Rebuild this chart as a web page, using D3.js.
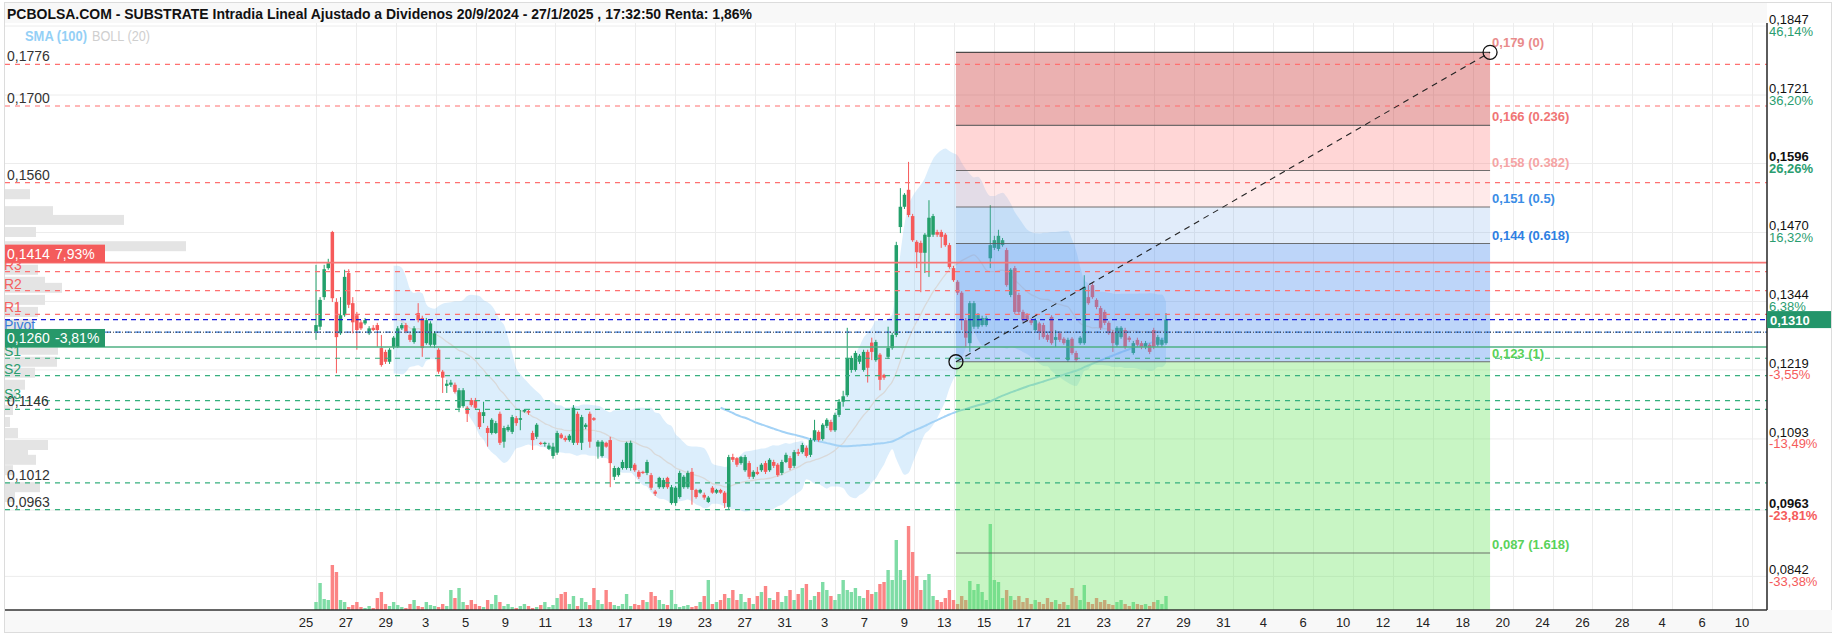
<!DOCTYPE html>
<html><head><meta charset="utf-8">
<script src="https://cdn.jsdelivr.net/npm/d3@7"></script>
<style>body{margin:0;background:#fff}svg{display:block;font-family:"Liberation Sans",Arial,sans-serif}</style>
</head><body><svg id="c" width="1833" height="638"></svg>
<script>
const titleText = "PCBOLSA.COM - SUBSTRATE Intradia Lineal Ajustado a Dividenos 20/9/2024 - 27/1/2025 , 17:32:50 Renta: 1,86%";
// [open, high, low, close]
const ohlc = [
[0.1288,0.1410,0.1273,0.1300],[0.1297,0.1351,0.1291,0.1346],[0.1351,0.1410,0.1346,0.1402],[0.1404,0.1421,0.1401,0.1413],
[0.1470,0.1472,0.1342,0.1349],[0.1342,0.1349,0.1212,0.1278],[0.1285,0.1351,0.1282,0.1318],[0.1318,0.1401,0.1315,0.1388],
[0.1395,0.1402,0.1331,0.1337],[0.1340,0.1351,0.1285,0.1305],[0.1318,0.1324,0.1255,0.1291],[0.1305,0.1309,0.1291,0.1294],
[0.1303,0.1313,0.1300,0.1309],[0.1285,0.1298,0.1282,0.1294],[0.1295,0.1300,0.1289,0.1291],[0.1300,0.1304,0.1260,0.1291],
[0.1258,0.1282,0.1224,0.1227],[0.1251,0.1255,0.1229,0.1233],[0.1233,0.1258,0.1229,0.1255],[0.1260,0.1280,0.1256,0.1277],
[0.1260,0.1298,0.1258,0.1294],[0.1294,0.1304,0.1291,0.1300],[0.1300,0.1304,0.1285,0.1288],[0.1282,0.1285,0.1269,0.1273],
[0.1269,0.1298,0.1266,0.1294],[0.1322,0.1340,0.1305,0.1309],[0.1313,0.1317,0.1242,0.1258],[0.1267,0.1313,0.1264,0.1309],
[0.1264,0.1307,0.1260,0.1303],[0.1264,0.1289,0.1258,0.1285],[0.1255,0.1258,0.1211,0.1215],[0.1215,0.1218,0.1176,0.1204],
[0.1189,0.1200,0.1176,0.1193],[0.1191,0.1200,0.1187,0.1195],[0.1191,0.1195,0.1175,0.1178],[0.1149,0.1185,0.1141,0.1181],
[0.1152,0.1185,0.1149,0.1181],[0.1149,0.1152,0.1123,0.1138],[0.1163,0.1167,0.1151,0.1154],[0.1163,0.1167,0.1145,0.1149],
[0.1141,0.1145,0.1110,0.1114],[0.1134,0.1160,0.1121,0.1141],[0.1112,0.1116,0.1078,0.1103],[0.1103,0.1130,0.1100,0.1127],
[0.1103,0.1125,0.1101,0.1121],[0.1138,0.1142,0.1081,0.1085],[0.1087,0.1116,0.1076,0.1112],[0.1108,0.1118,0.1105,0.1114],
[0.1105,0.1136,0.1101,0.1132],[0.1130,0.1134,0.1116,0.1121],[0.1127,0.1145,0.1108,0.1130],[0.1142,0.1147,0.1140,0.1145],
[0.1143,0.1146,0.1136,0.1140],[0.1103,0.1107,0.1072,0.1090],[0.1096,0.1121,0.1092,0.1118],[0.1085,0.1087,0.1081,0.1083],
[0.1083,0.1087,0.1078,0.1085],[0.1074,0.1085,0.1072,0.1080],[0.1061,0.1085,0.1056,0.1078],[0.1067,0.1107,0.1063,0.1103],
[0.1100,0.1103,0.1092,0.1094],[0.1094,0.1098,0.1087,0.1090],[0.1090,0.1101,0.1087,0.1098],[0.1085,0.1154,0.1081,0.1149],
[0.1138,0.1142,0.1081,0.1085],[0.1085,0.1136,0.1072,0.1132],[0.1114,0.1121,0.1110,0.1118],[0.1138,0.1142,0.1076,0.1087],
[0.1130,0.1132,0.1125,0.1127],[0.1078,0.1090,0.1056,0.1087],[0.1061,0.1090,0.1058,0.1087],[0.1085,0.1087,0.1076,0.1078],
[0.1090,0.1096,0.1004,0.1048],[0.1023,0.1043,0.1017,0.1039],[0.1026,0.1041,0.1023,0.1039],[0.1039,0.1054,0.1036,0.1050],
[0.1039,0.1087,0.1036,0.1085],[0.1039,0.1089,0.1034,0.1085],[0.1045,0.1048,0.1032,0.1035],[0.1032,0.1035,0.1019,0.1023],
[0.1032,0.1034,0.1028,0.1030],[0.1030,0.1054,0.1026,0.1050],[0.1026,0.1030,0.0999,0.1003],[0.0996,0.0999,0.0988,0.0992],
[0.1004,0.1023,0.1001,0.1021],[0.1004,0.1021,0.1001,0.1017],[0.1021,0.1023,0.1001,0.1004],[0.0975,0.1008,0.0972,0.1004],
[0.0975,0.1006,0.0970,0.1003],[0.0986,0.1034,0.0983,0.1030],[0.1004,0.1026,0.1001,0.1023],[0.1004,0.1034,0.1001,0.1030],
[0.1032,0.1039,0.0972,0.0999],[0.0999,0.1001,0.0983,0.0986],[0.0994,0.1001,0.0992,0.0999],[0.0990,0.0994,0.0981,0.0985],
[0.0977,0.0988,0.0975,0.0985],[0.1003,0.1006,0.0992,0.0994],[0.0994,0.1001,0.0992,0.0999],[0.0999,0.1001,0.0992,0.0994],
[0.0994,0.0997,0.0966,0.0975],[0.0968,0.1063,0.0964,0.1059],[0.1059,0.1065,0.1050,0.1054],[0.1057,0.1059,0.1041,0.1045],
[0.1048,0.1061,0.1045,0.1059],[0.1035,0.1063,0.1032,0.1059],[0.1048,0.1052,0.1019,0.1023],[0.1023,0.1035,0.1019,0.1032],
[0.1032,0.1041,0.1026,0.1028],[0.1035,0.1048,0.1032,0.1045],[0.1048,0.1052,0.1028,0.1032],[0.1035,0.1057,0.1032,0.1054],
[0.1050,0.1054,0.1039,0.1043],[0.1045,0.1048,0.1023,0.1026],[0.1030,0.1054,0.1026,0.1050],[0.1050,0.1067,0.1048,0.1063],
[0.1057,0.1061,0.1035,0.1039],[0.1043,0.1072,0.1039,0.1068],[0.1068,0.1074,0.1061,0.1065],[0.1068,0.1085,0.1065,0.1081],
[0.1076,0.1080,0.1058,0.1061],[0.1063,0.1094,0.1059,0.1090],[0.1090,0.1127,0.1087,0.1108],[0.1105,0.1108,0.1087,0.1090],
[0.1092,0.1121,0.1089,0.1118],[0.1116,0.1130,0.1112,0.1127],[0.1123,0.1127,0.1105,0.1108],[0.1108,0.1140,0.1105,0.1136],
[0.1136,0.1165,0.1132,0.1160],[0.1160,0.1180,0.1151,0.1170],[0.1172,0.1295,0.1169,0.1240],[0.1218,0.1244,0.1213,0.1240],
[0.1218,0.1253,0.1215,0.1249],[0.1233,0.1247,0.1229,0.1244],[0.1218,0.1255,0.1215,0.1251],[0.1251,0.1255,0.1195,0.1222],
[0.1268,0.1277,0.1236,0.1251],[0.1236,0.1273,0.1233,0.1269],[0.1246,0.1249,0.1181,0.1200],[0.1209,0.1211,0.1200,0.1204],
[0.1242,0.1297,0.1238,0.1258],[0.1258,0.1286,0.1255,0.1282],[0.1282,0.1452,0.1278,0.1446],[0.1479,0.1550,0.1468,0.1516],
[0.1516,0.1541,0.1512,0.1538],[0.1547,0.1598,0.1497,0.1501],[0.1499,0.1503,0.1452,0.1455],[0.1452,0.1455,0.1404,0.1433],
[0.1450,0.1454,0.1360,0.1432],[0.1432,0.1468,0.1395,0.1465],[0.1461,0.1528,0.1388,0.1496],[0.1465,0.1503,0.1461,0.1499],
[0.1470,0.1474,0.1461,0.1465],[0.1470,0.1474,0.1441,0.1461],[0.1465,0.1468,0.1443,0.1446],[0.1446,0.1450,0.1403,0.1406],
[0.1404,0.1408,0.1379,0.1382],[0.1379,0.1382,0.1355,0.1359],[0.1359,0.1362,0.1291,0.1309],[0.1309,0.1313,0.1260,0.1277],
[0.1267,0.1344,0.1251,0.1340],[0.1297,0.1344,0.1293,0.1340],[0.1297,0.1322,0.1293,0.1318],[0.1300,0.1317,0.1297,0.1313],
[0.1300,0.1317,0.1297,0.1313],[0.1422,0.1519,0.1404,0.1446],[0.1441,0.1463,0.1437,0.1455],[0.1439,0.1474,0.1435,0.1463],
[0.1446,0.1459,0.1443,0.1455],[0.1437,0.1441,0.1370,0.1373],[0.1355,0.1404,0.1351,0.1401],[0.1404,0.1408,0.1320,0.1324],
[0.1355,0.1359,0.1320,0.1324],[0.1324,0.1328,0.1306,0.1309],[0.1318,0.1322,0.1306,0.1309],[0.1309,0.1313,0.1300,0.1304],
[0.1291,0.1313,0.1288,0.1309],[0.1303,0.1306,0.1273,0.1287],[0.1300,0.1304,0.1275,0.1278],[0.1282,0.1285,0.1269,0.1273],
[0.1315,0.1318,0.1264,0.1267],[0.1273,0.1291,0.1260,0.1278],[0.1285,0.1289,0.1269,0.1273],[0.1275,0.1278,0.1264,0.1267],
[0.1236,0.1277,0.1233,0.1273],[0.1275,0.1278,0.1246,0.1249],[0.1249,0.1253,0.1233,0.1236],[0.1267,0.1280,0.1264,0.1277],
[0.1267,0.1391,0.1264,0.1370],[0.1351,0.1373,0.1337,0.1340],[0.1373,0.1377,0.1348,0.1351],[0.1346,0.1349,0.1329,0.1333],
[0.1331,0.1335,0.1291,0.1295],[0.1324,0.1328,0.1300,0.1304],[0.1304,0.1307,0.1282,0.1285],[0.1287,0.1291,0.1251,0.1267],
[0.1264,0.1298,0.1260,0.1295],[0.1278,0.1298,0.1275,0.1295],[0.1291,0.1295,0.1256,0.1260],[0.1277,0.1280,0.1269,0.1273],
[0.1249,0.1271,0.1246,0.1267],[0.1273,0.1277,0.1260,0.1264],[0.1267,0.1271,0.1256,0.1260],[0.1260,0.1271,0.1256,0.1267],
[0.1264,0.1267,0.1247,0.1251],[0.1291,0.1295,0.1256,0.1260],[0.1264,0.1282,0.1260,0.1278],[0.1264,0.1277,0.1260,0.1273],
[0.1267,0.1322,0.1264,0.1310]
];
const volume = [
8,27,11,10,45,38,10,8,3,5, 8,3,2,4,2,12,18,6,4,8, 5,3,2,6,10,4,3,8,5,4, 3,6,4,20,12,22,8,5,10,6,
4,3,10,6,15,8,4,6,3,2, 4,6,4,2,3,5,8,3,5,12, 16,18,6,14,4,12,8,5,22,10, 6,20,8,5,4,6,16,4,6,5,
10,8,18,14,10,6,5,20,6,3, 4,5,3,4,8,14,30,6,8,10, 16,12,20,10,16,8,12,6,14,18, 24,12,10,18,8,14,20,10,16,22,
26,10,14,18,28,20,14,10,16,30, 20,18,22,14,12,20,16,18,26,28, 40,30,70,40,30,84,58,34,20,30, 36,14,10,8,12,20,10,6,14,10,
29,20,26,18,10,86,30,28,12,20, 14,10,14,8,12,6,10,8,6,12, 8,10,6,8,5,22,14,10,25,8, 6,12,8,10,6,5,8,10,6,4,
8,6,5,6,4,8,10,6,14
];
const xTickLabels = ["25","27","29","3","5","9","11","13","17","19","23","27","31","3","7","9","13","15","17","21","23","27","29","31","4","6","10","12","14","18","20","24","26","28","4","6","10"];
const yTickValues = [0.1847,0.1721,0.1596,0.1470,0.1344,0.1219,0.1093,0.0963,0.0842];
const yTickText = ["0,1847","0,1721","0,1596","0,1470","0,1344","0,1219","0,1093","0,0963","0,0842"];
const yTickPct = ["46,14%","36,20%","26,26%","16,32%","6,38%","-3,55%","-13,49%","-23,81%","-33,38%"];
const yTickBold = [false,false,true,false,false,false,false,true,false];
const resistValues = [0.1776,0.1700,0.1560];
const resistText = ["0,1776","0,1700","0,1560"];
const supportValues = [0.1146,0.1012,0.0963];
const supportText = ["0,1146","0,1012","0,0963"];
const pivotNames = ["R3","R2","R1","Pivot","S1","S2","S3"];
const pivotValues = [0.13975,0.13628,0.13197,0.1287,0.12394,0.12076,0.1162];
const lastPrice = 0.1310, lastText = "0,1310";
const highLine = 0.1414, highText = ["0,1414","7,93%"];
const lowLine = 0.1260, lowText = ["0,1260","-3,81%"];
const fibTop = 0.1798, fibBottom = 0.1233;
const fibRatios = [0,0.236,0.382,0.5,0.618,1,1.618];
const fibText = ["0,179 (0)","0,166 (0.236)","0,158 (0.382)","0,151 (0.5)","0,144 (0.618)","0,123 (1)","0,087 (1.618)"];
const fibStartBar = 156.6, fibEndBar = 287.3;
const profilePrice = [0.1539,0.1508,0.1492,0.1470,0.1444,0.1424,0.1401,0.1379,0.1368,0.1346,0.1324,0.1302,0.1277,0.1255,0.1233,0.1213,0.1191,0.1169,0.1145,0.1123,0.1103,0.1081,0.1068,0.1054,0.1035,0.1004,0.0986];
const profileVol = [25,48,119,31,181,32,33,40,57,40,33,28,60,53,52,30,20,12,8,5,13,43,23,31,8,35,10];

const svg = d3.select("#c");
const L = 5, R = 1767, T = 23, B = 610;
const N = ohlc.length;
const x = d3.scaleLinear().domain([0, N - 1]).range([316, 1166]);
const y = d3.scaleLinear().domain([0.0842, 0.1847]).range([575.9, 25.5]);
const yVol = d3.scaleLinear().domain([0, 100]).range([B, B - 100]);
const xt = d3.scaleLinear().domain([0, xTickLabels.length - 1]).range([316, 1752]);
const green = "#23a06b", red = "#f65a5a";

svg.append("defs").append("clipPath").attr("id","clip").append("rect").attr("x",L).attr("y",T).attr("width",R-L).attr("height",B-T);

// frame and title bar
svg.append("rect").attr("x",L).attr("y",3).attr("width",R-L).attr("height",T-3).attr("fill","#f8f8f8");
svg.append("rect").attr("x",4.5).attr("y",2.5).attr("width",1827).attr("height",630).attr("fill","none").attr("stroke","#dcdcdc");
svg.append("text").attr("x",7).attr("y",19).attr("font-size",14).attr("font-weight","bold").attr("fill","#111")
  .attr("textLength",745).attr("lengthAdjust","spacingAndGlyphs").text(titleText);

const plot = svg.append("g").attr("clip-path","url(#clip)");
// grid
plot.selectAll(".hg").data(yTickValues).join("line").attr("x1",L).attr("x2",R)
  .attr("y1",d=>y(d)+0.5).attr("y2",d=>y(d)+0.5).attr("stroke","#ececec");
plot.selectAll(".vg").data(xTickLabels).join("line").attr("y1",T).attr("y2",B)
  .attr("x1",(d,i)=>Math.round(xt(i))+0.5).attr("x2",(d,i)=>Math.round(xt(i))+0.5).attr("stroke","#ececec");

// volume profile
plot.selectAll(".vp").data(profilePrice).join("rect").attr("x",L)
  .attr("y",d=>y(d)-5).attr("height",10).attr("width",(d,i)=>profileVol[i]).attr("fill","#e4e4e4");

// indicators
const closes = ohlc.map(d=>d[3]);
const boll = [];
for (let i = 19; i < N; i++) {
  const w = closes.slice(i-19, i+1); const m = d3.mean(w); const sd = Math.sqrt(d3.mean(w, v=>(v-m)*(v-m)));
  boll.push({i, m, u: m + 2*sd, l: m - 2*sd});
}
const sma = [];
for (let i = 99; i < N; i++) sma.push({i, v: d3.mean(closes.slice(i-99, i+1))});
plot.append("path").datum(boll).attr("fill","rgba(140,200,245,0.30)")
  .attr("d", d3.area().curve(d3.curveMonotoneX).x(d=>x(d.i)).y0(d=>y(d.l)).y1(d=>y(d.u)));
plot.append("path").datum(boll).attr("fill","none").attr("stroke","#d9d9d9").attr("stroke-width",1.3)
  .attr("d", d3.line().curve(d3.curveMonotoneX).x(d=>x(d.i)).y(d=>y(d.m)));
plot.append("path").datum(sma).attr("fill","none").attr("stroke","#a3d2f6").attr("stroke-width",2)
  .attr("d", d3.line().curve(d3.curveMonotoneX).x(d=>x(d.i)).y(d=>y(d.v)));

// volume bars
plot.selectAll(".vb").data(ohlc).join("rect").attr("x",(d,i)=>x(i)-1.7).attr("width",3.4)
  .attr("y",(d,i)=>yVol(volume[i]||0)).attr("height",(d,i)=>B-yVol(volume[i]||0))
  .attr("fill",d=>d[3]>=d[0]?"#7fdca6":"#fb8585");

// candles
const cg = plot.selectAll(".cd").data(ohlc).join("g");
cg.append("line").attr("x1",(d,i)=>x(i)).attr("x2",(d,i)=>x(i)).attr("y1",d=>y(d[1])).attr("y2",d=>y(d[2]))
  .attr("stroke",d=>d[3]>=d[0]?green:red).attr("stroke-width",1);
cg.append("rect").attr("x",(d,i)=>x(i)-1.75).attr("width",3.5)
  .attr("y",d=>y(Math.max(d[0],d[3]))).attr("height",d=>Math.max(1.2,Math.abs(y(d[0])-y(d[3]))))
  .attr("fill",d=>d[3]>=d[0]?green:red);

// fibonacci zones
const fx0 = x(fibStartBar), fx1 = x(fibEndBar);
const fibPrice = r => fibTop - r*(fibTop - fibBottom);
const zoneFill = ["rgba(205,60,60,0.40)","rgba(255,120,120,0.30)","rgba(255,150,150,0.20)","rgba(120,170,230,0.22)","rgba(90,150,240,0.40)"];
zoneFill.forEach((c,k)=>{
  plot.append("rect").attr("x",fx0).attr("width",fx1-fx0).attr("y",y(fibPrice(fibRatios[k])))
    .attr("height",y(fibPrice(fibRatios[k+1]))-y(fibPrice(fibRatios[k]))).attr("fill",c);
});
plot.append("rect").attr("x",fx0).attr("width",fx1-fx0).attr("y",y(fibBottom)).attr("height",B-y(fibBottom)).attr("fill","rgba(110,230,100,0.38)");

// horizontal levels
function hline(v, color, dash, w){
  plot.append("line").attr("x1",L).attr("x2",R).attr("y1",y(v)).attr("y2",y(v))
    .attr("stroke",color).attr("stroke-width",w||1.2).attr("stroke-dasharray",dash||null);
}
resistValues.forEach(v=>hline(v,"#ff7070","5,5"));
pivotValues.forEach((v,i)=>{ if(i<3) hline(v,"#ff7070","5,5"); else if(i>3) hline(v,"#36b07e","5,5"); });
supportValues.forEach(v=>hline(v,"#36b07e","5,5"));
hline(highLine,"#f67676",null,1.6);
hline(lowLine,"#4fb083",null,1.6);
hline(lastPrice,"#1818d8","5,4",1.2);
hline(pivotValues[3],"#3a7bd8","6,4",1.2);
hline(pivotValues[3],"#333","1,2",1);

// fib lines & labels
fibRatios.forEach((r,k)=>{
  plot.append("line").attr("x1",fx0).attr("x2",fx1).attr("y1",y(fibPrice(r))).attr("y2",y(fibPrice(r)))
    .attr("stroke",k===0?"#333":"#5a5a5a").attr("stroke-width",k===0?1.4:1.1).attr("opacity",0.85);
});
const fibColors = ["#e98b8b","#f07575","#f5a4a4","#3a8de6","#2f80e2","#5ad25a","#5ad25a"];
fibRatios.forEach((r,k)=>{
  svg.append("text").attr("x",fx1+2).attr("y",y(fibPrice(r))-(k===0?5:4)).attr("font-size",13).attr("font-weight","bold")
    .attr("fill",fibColors[k]).text(fibText[k]);
});
plot.append("line").attr("x1",fx0).attr("y1",y(fibBottom)).attr("x2",fx1).attr("y2",y(fibTop))
  .attr("stroke","#222").attr("stroke-width",1.1).attr("stroke-dasharray","6,5");
[[fx0,y(fibBottom)],[fx1,y(fibTop)]].forEach(p=>svg.append("circle").attr("cx",p[0]).attr("cy",p[1]).attr("r",7)
  .attr("fill","none").attr("stroke","#111").attr("stroke-width",1.3));

// left labels
const lab = (t, v, color) => svg.append("text").attr("x",7).attr("y",y(v)-3).attr("font-size",14).attr("fill",color).text(t);
resistText.forEach((t,i)=>lab(t,resistValues[i],"#333"));
supportText.forEach((t,i)=>lab(t,supportValues[i],"#333"));
pivotNames.forEach((t,i)=>{
  svg.append("text").attr("x",4).attr("y",y(pivotValues[i])-2).attr("font-size",14)
    .attr("fill", i<3?"#f45f5f":(i===3?"#3a7bd8":"#2a9d6f")).text(t);
});
function box(v, txt, color){
  const yy = y(v);
  svg.append("rect").attr("x",L).attr("y",yy-18).attr("width",100).attr("height",18).attr("fill",color);
  svg.append("text").attr("x",7).attr("y",yy-4).attr("font-size",14).attr("fill","#fff").text(txt[0]);
  svg.append("text").attr("x",55).attr("y",yy-4).attr("font-size",14).attr("fill","#fff").text(txt[1]);
}
box(highLine, highText, "#f45b5b");
box(lowLine, lowText, "#27986a");

// legend
svg.append("text").attr("x",25).attr("y",41).attr("font-size",15).attr("font-weight","bold").attr("fill","#94d0f6")
  .attr("textLength",62).attr("lengthAdjust","spacingAndGlyphs").text("SMA (100)");
svg.append("text").attr("x",92).attr("y",41).attr("font-size",15).attr("fill","#cfcfcf")
  .attr("textLength",58).attr("lengthAdjust","spacingAndGlyphs").text("BOLL (20)");

// right axis
svg.append("line").attr("x1",R).attr("x2",R).attr("y1",T).attr("y2",B).attr("stroke","#333").attr("stroke-width",1.6);
yTickValues.forEach((v,i)=>{
  svg.append("text").attr("x",R+2).attr("y",y(v)-1.5).attr("font-size",13).attr("font-weight",yTickBold[i]?"bold":"normal")
    .attr("fill","#111").text(yTickText[i]);
  svg.append("text").attr("x",R+2).attr("y",y(v)+10).attr("font-size",13).attr("font-weight",yTickBold[i]?"bold":"normal")
    .attr("fill", yTickPct[i].startsWith("-")?"#f55b5b":"#2a9d6f").text(yTickPct[i]);
});
svg.append("rect").attr("x",R).attr("y",y(lastPrice)-8.5).attr("width",64).attr("height",17).attr("fill","#23956a");
svg.append("text").attr("x",R+3).attr("y",y(lastPrice)+5).attr("font-size",13).attr("font-weight","bold").attr("fill","#fff").text(lastText);

// bottom axis
svg.append("rect").attr("x",L).attr("y",B).attr("width",1827).attr("height",22).attr("fill","#f8f8f8");
svg.append("line").attr("x1",L).attr("x2",R).attr("y1",B).attr("y2",B).attr("stroke","#333").attr("stroke-width",1.6);
svg.append("line").attr("x1",L).attr("x2",1832).attr("y1",632.5).attr("y2",632.5).attr("stroke","#dcdcdc");
svg.selectAll(".xl").data(xTickLabels).join("text").attr("x",(d,i)=>xt(i)-10).attr("y",627)
  .attr("text-anchor","middle").attr("font-size",13).attr("fill","#222").text(d=>d);
</script></body></html>
